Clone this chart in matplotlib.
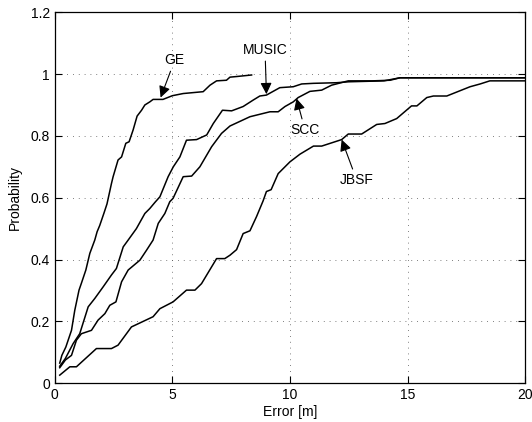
import matplotlib.pyplot as plt

plt.rcParams['font.family'] = ['Liberation Sans', 'DejaVu Sans']

# CDF curves (error in m, probability)
ge_x = [0.21, 0.3, 0.47, 0.71, 0.85, 1.03, 1.13, 1.32, 1.49, 1.70, 1.80, 1.91, 2.09, 2.22,
        2.41, 2.48, 2.69, 2.84, 3.02, 3.16, 3.33, 3.5, 3.69, 3.83, 4.04, 4.18, 4.6, 5.0,
        5.46, 6.31, 6.6, 6.88, 7.3, 7.45, 7.73, 8.37]
ge_y = [0.065, 0.09, 0.117, 0.171, 0.236, 0.301, 0.323, 0.366, 0.42, 0.463, 0.49, 0.51,
        0.55, 0.58, 0.646, 0.668, 0.722, 0.732, 0.776, 0.781, 0.819, 0.864, 0.883, 0.9,
        0.91, 0.918, 0.918, 0.93, 0.937, 0.943, 0.964, 0.978, 0.98, 0.99, 0.992, 0.997]

music_x = [0.21, 0.45, 0.78, 1.06, 1.42, 1.70, 2.06, 2.41, 2.62, 2.91, 3.12, 3.47, 3.83,
           4.04, 4.26, 4.47, 4.82, 5.04, 5.32, 5.6, 6.03, 6.46, 6.74, 7.13, 7.52, 8.01,
           8.44, 8.72, 9.0, 9.57, 10.14, 10.5, 11.0, 11.99, 12.5, 14.0, 14.68, 20.0]
music_y = [0.055, 0.08, 0.128, 0.16, 0.247, 0.274, 0.312, 0.35, 0.371, 0.441, 0.463, 0.5,
           0.549, 0.565, 0.585, 0.603, 0.668, 0.7, 0.732, 0.786, 0.788, 0.803, 0.84, 0.883,
           0.881, 0.895, 0.916, 0.929, 0.932, 0.956, 0.959, 0.968, 0.97, 0.972, 0.975,
           0.978, 0.988, 0.988]

scc_x = [0.21, 0.45, 0.71, 0.92, 1.13, 1.56, 1.84, 2.13, 2.34, 2.6, 2.84, 3.12, 3.62, 3.9,
         4.18, 4.4, 4.68, 4.89, 5.03, 5.46, 5.82, 6.17, 6.67, 7.09, 7.45, 8.3, 9.15, 9.5,
         9.79, 10.14, 10.35, 10.85, 11.35, 11.77, 12.48, 13.5, 14.26, 14.68, 20.0]
scc_y = [0.05, 0.075, 0.09, 0.139, 0.16, 0.171, 0.204, 0.225, 0.252, 0.263, 0.328, 0.366,
         0.398, 0.43, 0.463, 0.517, 0.549, 0.587, 0.598, 0.668, 0.67, 0.7, 0.765, 0.808,
         0.832, 0.862, 0.878, 0.878, 0.895, 0.91, 0.924, 0.944, 0.948, 0.964, 0.978,
         0.978, 0.98, 0.988, 0.988]

jbsf_x = [0.21, 0.64, 0.92, 1.77, 2.41, 2.69, 3.26, 4.18, 4.47, 5.03, 5.6, 5.96, 6.24, 6.88,
          7.23, 7.45, 7.73, 8.01, 8.3, 8.58, 8.86, 9.0, 9.2, 9.5, 10.0, 10.43, 11.0, 11.35,
          12.2, 12.48, 13.05, 13.69, 14.04, 14.54, 15.17, 15.4, 15.82, 16.1, 16.67, 17.66,
          18.09, 18.5, 20.0]
jbsf_y = [0.026, 0.053, 0.053, 0.112, 0.112, 0.123, 0.182, 0.215, 0.241, 0.263, 0.301,
          0.301, 0.322, 0.403, 0.403, 0.414, 0.432, 0.484, 0.493, 0.539, 0.59, 0.62, 0.626,
          0.678, 0.716, 0.741, 0.767, 0.767, 0.788, 0.806, 0.806, 0.837, 0.84, 0.856,
          0.897, 0.897, 0.924, 0.929, 0.929, 0.959, 0.968, 0.978, 0.978]

labels = ['GE', 'MUSIC', 'SCC', 'JBSF']
label_pos = [(5.1, 1.045), (8.94, 1.078), (10.64, 0.819), (12.84, 0.657)]
arrow_tip = [(4.5, 0.924), (9.0, 0.935), (10.28, 0.921), (12.2, 0.788)]

fig = plt.figure(figsize=(5.32, 4.22), dpi=100)
ax = fig.add_axes([0.103, 0.092, 0.884, 0.879])

for xs, ys in [(ge_x, ge_y), (music_x, music_y), (scc_x, scc_y), (jbsf_x, jbsf_y)]:
    ax.plot(xs, ys, color='black', linewidth=1.1)

for lab, pos, tip in zip(labels, label_pos, arrow_tip):
    ax.annotate(lab, xy=tip, xytext=pos, ha='center', va='center', fontsize=10,
                arrowprops=dict(arrowstyle='-|>', color='black', lw=0.8,
                                mutation_scale=17, shrinkA=1, shrinkB=0))

ax.set_xlim(0, 20)
ax.set_ylim(0, 1.2)
ax.set_xticks([0, 5, 10, 15, 20])
ax.set_yticks([0, 0.2, 0.4, 0.6, 0.8, 1.0, 1.2])
ax.set_yticklabels(['0', '0.2', '0.4', '0.6', '0.8', '1', '1.2'])
ax.tick_params(direction='in', top=True, right=True, length=5, labelsize=10, width=0.8)
ax.grid(True, linestyle=(0, (1, 6)), color='#555555', linewidth=0.6)
ax.set_xlabel('Error [m]', fontsize=10, labelpad=2)
ax.set_ylabel('Probability', fontsize=10, labelpad=6)
for s in ax.spines.values():
    s.set_linewidth(0.9)

fig.savefig('out.png', dpi=100)
